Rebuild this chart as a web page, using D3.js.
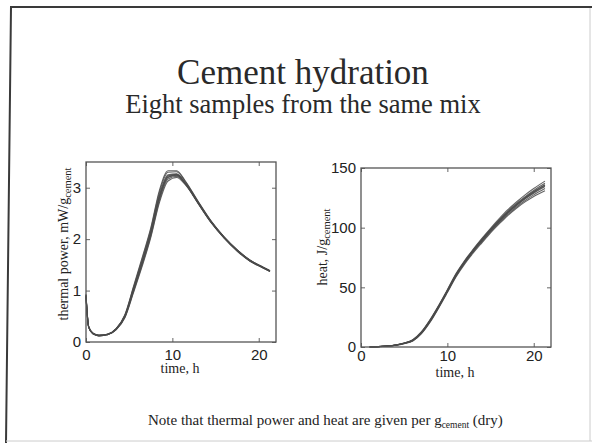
<!DOCTYPE html>
<html>
<head>
<meta charset="utf-8">
<script src="https://cdn.jsdelivr.net/npm/d3@7"></script>
<style>
  body { margin: 0; background: #fff; }
  svg { display: block; }
</style>
</head>
<body>
<div id="slide"></div>
<script>
// tick labels
const timeTicks = [0, 10, 20];
const powerTicks = [0, 1, 2, 3];
const heatTicks = [0, 50, 100, 150];

// thermal power, mW/g, eight samples
const powerTime = [0, 0.3, 0.8, 1.5, 2.5, 3.5, 4.5, 5.5, 6.5, 7.5, 8.5, 9.5, 10.5, 11.5, 13, 14.5, 16, 17.5, 19, 20.5, 21.3];
const powerSamples = [
  [0.92, 0.31, 0.17, 0.13, 0.15, 0.26, 0.53, 1.08, 1.64, 2.22, 2.95, 3.33, 3.33, 3.13, 2.73, 2.35, 2.04, 1.79, 1.59, 1.46, 1.39],
  [0.90, 0.30, 0.17, 0.13, 0.15, 0.26, 0.52, 1.06, 1.61, 2.19, 2.91, 3.30, 3.31, 3.12, 2.72, 2.34, 2.04, 1.79, 1.59, 1.45, 1.38],
  [0.88, 0.29, 0.16, 0.12, 0.14, 0.25, 0.50, 1.02, 1.55, 2.12, 2.83, 3.23, 3.26, 3.09, 2.71, 2.33, 2.03, 1.78, 1.58, 1.45, 1.38],
  [0.91, 0.30, 0.17, 0.13, 0.15, 0.25, 0.49, 1.00, 1.53, 2.10, 2.79, 3.20, 3.24, 3.08, 2.70, 2.33, 2.03, 1.78, 1.58, 1.45, 1.38],
  [0.89, 0.30, 0.16, 0.12, 0.14, 0.24, 0.47, 0.96, 1.47, 2.03, 2.71, 3.13, 3.20, 3.06, 2.69, 2.32, 2.02, 1.77, 1.57, 1.44, 1.37],
  [0.93, 0.31, 0.17, 0.13, 0.15, 0.26, 0.51, 1.04, 1.58, 2.15, 2.86, 3.25, 3.27, 3.09, 2.70, 2.33, 2.03, 1.78, 1.58, 1.45, 1.38],
  [0.87, 0.29, 0.16, 0.12, 0.14, 0.24, 0.48, 0.98, 1.50, 2.06, 2.75, 3.17, 3.22, 3.07, 2.69, 2.32, 2.02, 1.77, 1.57, 1.44, 1.37],
  [0.90, 0.30, 0.17, 0.13, 0.15, 0.25, 0.50, 1.01, 1.54, 2.11, 2.81, 3.21, 3.25, 3.08, 2.71, 2.34, 2.04, 1.79, 1.59, 1.45, 1.38]
];

// heat, J/g, eight samples
const heatTime = [1, 2, 3, 4, 5, 6, 7, 8, 9, 10, 11, 12, 13, 14, 15, 16, 17, 18, 19, 20, 21.3];
const heatSamples = [
  [0, 0.3, 0.8, 1.7, 3.4, 6.2, 12.8, 23.0, 35.0, 48.0, 61.5, 72.5, 82.0, 91.0, 99.5, 107.5, 115.0, 121.5, 127.5, 132.8, 139.0],
  [0, 0.3, 0.8, 1.6, 3.2, 5.8, 12.3, 22.3, 34.3, 47.3, 60.8, 71.7, 81.3, 90.2, 98.7, 106.5, 113.9, 120.3, 126.0, 131.2, 137.2],
  [0, 0.3, 0.8, 1.6, 3.2, 5.6, 12.0, 22.0, 34.0, 47.0, 60.3, 71.2, 80.8, 89.5, 98.0, 105.8, 113.0, 119.3, 125.0, 130.0, 135.5],
  [0, 0.3, 0.7, 1.5, 3.0, 5.4, 11.7, 21.6, 33.6, 46.5, 59.8, 70.8, 80.2, 88.9, 97.3, 104.9, 112.2, 118.5, 124.1, 128.9, 134.4],
  [0, 0.2, 0.7, 1.5, 2.9, 5.3, 11.5, 21.2, 33.2, 46.1, 59.3, 70.2, 79.6, 88.1, 96.4, 104.0, 111.1, 117.3, 122.8, 127.5, 132.8],
  [0, 0.3, 0.8, 1.6, 3.3, 6.0, 12.5, 22.6, 34.6, 47.6, 61.0, 71.9, 81.4, 90.1, 98.4, 106.0, 113.2, 119.6, 125.3, 130.3, 136.0],
  [0, 0.2, 0.7, 1.4, 2.8, 5.1, 11.2, 20.8, 32.8, 45.6, 58.7, 69.5, 78.8, 87.3, 95.6, 103.1, 110.2, 116.3, 121.6, 126.2, 131.0],
  [0, 0.3, 0.8, 1.6, 3.1, 5.5, 11.9, 21.8, 33.8, 46.8, 60.0, 70.9, 80.4, 89.0, 97.4, 105.1, 112.4, 118.7, 124.4, 129.4, 134.8]
];

const serif = "'Liberation Serif', 'Times New Roman', serif";
const sans = "'Liberation Sans', Arial, sans-serif";

const svg = d3.select('#slide').append('svg')
  .attr('width', 592)
  .attr('height', 443);

// slide frame
svg.append('path')
  .attr('d', 'M592,7 L11,7 L6,443')
  .attr('fill', 'none')
  .attr('stroke', '#3a3a3a')
  .attr('stroke-width', 2);
svg.append('path')
  .attr('d', 'M6,441 L592,441 M590,8 L590,441')
  .attr('fill', 'none')
  .attr('stroke', '#ccc')
  .attr('stroke-width', 1);

svg.append('text')
  .attr('x', 303).attr('y', 84)
  .attr('text-anchor', 'middle')
  .attr('font-family', serif)
  .attr('font-size', 35)
  .attr('fill', '#2a2a2a')
  .text('Cement hydration');

svg.append('text')
  .attr('x', 303).attr('y', 113)
  .attr('text-anchor', 'middle')
  .attr('font-family', serif)
  .attr('font-size', 26.5)
  .attr('fill', '#2a2a2a')
  .text('Eight samples from the same mix');

const note = svg.append('text')
  .attr('x', 148).attr('y', 425)
  .attr('font-family', serif)
  .attr('font-size', 15)
  .attr('fill', '#222');
note.append('tspan').text('Note that thermal power and heat are given per g');
note.append('tspan').attr('font-size', 9.5).attr('dy', 3).text('cement');
note.append('tspan').attr('dy', -3).text(' (dry)');

function makePanel(p) {
  const x = d3.scaleLinear().domain([0, 22]).range([p.left, p.right]);
  const y = d3.scaleLinear().domain(p.yDomain).range([p.bottom, p.top]);

  const g = svg.append('g');

  const line = d3.line()
    .x(d => x(d[0]))
    .y(d => y(d[1]))
    .curve(d3.curveMonotoneX);

  g.append('g')
    .selectAll('path')
    .data(p.samples)
    .join('path')
    .attr('d', s => line(s.map((v, i) => [p.time[i], v])))
    .attr('fill', 'none')
    .attr('stroke', '#4a4a4a')
    .attr('stroke-width', 1.1)
    .attr('stroke-opacity', 0.85);

  const styleAxis = a => {
    a.select('.domain').remove();
    a.selectAll('line').attr('stroke', '#666');
    a.selectAll('text')
      .attr('font-family', sans)
      .attr('font-size', 15)
      .attr('fill', '#222');
  };

  g.append('g')
    .attr('transform', `translate(0,${p.bottom})`)
    .call(d3.axisBottom(x).tickValues(timeTicks).tickFormat(d3.format('d')).tickSize(-4).tickPadding(p.xPad))
    .call(styleAxis);
  g.append('g')
    .attr('transform', `translate(0,${p.top})`)
    .call(d3.axisTop(x).tickValues(timeTicks).tickSize(-4).tickFormat(''))
    .call(styleAxis);
  g.append('g')
    .attr('transform', `translate(${p.left},0)`)
    .call(d3.axisLeft(y).tickValues(p.yTicks).tickFormat(d3.format('d')).tickSize(-4).tickPadding(5))
    .call(styleAxis);
  g.append('g')
    .attr('transform', `translate(${p.right},0)`)
    .call(d3.axisRight(y).tickValues(p.yTicks).tickSize(-4).tickFormat(''))
    .call(styleAxis);

  g.append('rect')
    .attr('x', p.left).attr('y', p.top)
    .attr('width', p.right - p.left)
    .attr('height', p.bottom - p.top)
    .attr('fill', 'none')
    .attr('stroke', '#555')
    .attr('stroke-width', 1.3);

  g.append('text')
    .attr('x', (p.left + p.right) / 2 - 1)
    .attr('y', p.bottom + p.xLabelDy)
    .attr('text-anchor', 'middle')
    .attr('font-family', serif)
    .attr('font-size', 14)
    .attr('fill', '#222')
    .text('time, h');

  const yl = g.append('text')
    .attr('transform', `translate(${p.yLabelX},${p.yLabelY}) rotate(-90)`)
    .attr('text-anchor', 'middle')
    .attr('font-family', serif)
    .attr('font-size', 14)
    .attr('fill', '#222');
  yl.append('tspan').text(p.yLabel);
  yl.append('tspan').attr('font-size', 10.5).attr('dy', 3).text('cement');
}

makePanel({
  left: 86, right: 276, top: 162, bottom: 342,
  yDomain: [0, 3.5], yTicks: powerTicks,
  time: powerTime, samples: powerSamples,
  xPad: 7, xLabelDy: 31,
  yLabel: 'thermal power, mW/g', yLabelX: 68, yLabelY: 244
});

makePanel({
  left: 361, right: 551, top: 168, bottom: 347,
  yDomain: [0, 150], yTicks: heatTicks,
  time: heatTime, samples: heatSamples,
  xPad: 3, xLabelDy: 30,
  yLabel: 'heat, J/g', yLabelX: 327, yLabelY: 247
});
</script>
</body>
</html>
